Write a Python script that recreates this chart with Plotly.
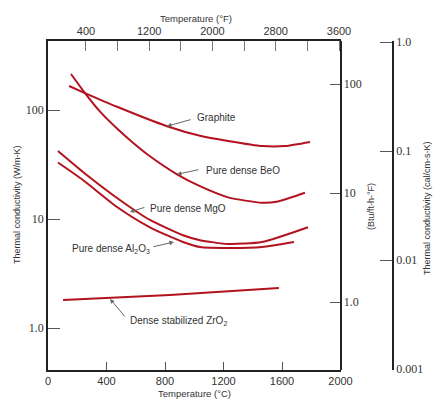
import math
import plotly.graph_objects as go

# ---------------- data ----------------
t_graphite = [144, 253, 472, 814, 1039, 1231, 1463, 1621, 1792]
k_graphite = [166, 143, 107, 71, 58, 52, 46.7, 46.7, 50.9]

t_beo = [157, 253, 356, 472, 581, 697, 882, 1039, 1231, 1463, 1573, 1757]
k_beo = [214, 143, 96.6, 67.6, 50.1, 37.6, 25.7, 20.0, 15.8, 14.1, 14.5, 17.4]

t_mgo = [68, 239, 472, 697, 923, 1039, 1231, 1463, 1778]
k_mgo = [42, 27, 15.6, 9.8, 7.1, 6.4, 5.9, 6.15, 8.4]

t_al2o3 = [68, 239, 472, 697, 923, 1039, 1231, 1463, 1682]
k_al2o3 = [33, 22.8, 12.9, 8.4, 6.15, 5.53, 5.42, 5.53, 6.15]

t_zro2 = [103, 834, 1579]
k_zro2 = [1.81, 2.01, 2.33]

c_ticks = [0, 400, 800, 1200, 1600, 2000]
f_ticks = [400, 800, 1200, 1600, 2000, 2400, 2800, 3200, 3600]
f_labels = ["400", "", "1200", "", "2000", "", "2800", "", "3600"]
w_ticks = [1, 10, 100]
w_labels = ["1.0", "10", "100"]
btu_ticks = [1, 10, 100]
btu_labels = ["1.0", "10", "100"]
cal_ticks = [0.001, 0.01, 0.1, 1]
cal_labels = ["0.001", "0.01", "0.1", "1.0"]

# ---------------- layout helpers ----------------
W, H = 435, 400
def px(x):
    return x / W
def py(y):
    return 1 - y / H

RED = "#b3121f"
AX = "#222222"
TXT = "#333333"
SANS = "Liberation Sans, Arial, sans-serif"
SERIF = "Liberation Serif, Times New Roman, serif"

fig = go.Figure()
series = [(t_graphite, k_graphite), (t_beo, k_beo), (t_mgo, k_mgo),
          (t_al2o3, k_al2o3), (t_zro2, k_zro2)]
for t, k in series:
    fig.add_trace(go.Scatter(x=t, y=k, mode="lines",
                             line=dict(color=RED, width=2, shape="spline", smoothing=0.6),
                             hoverinfo="skip"))
# empty traces so overlay axes exist
fig.add_trace(go.Scatter(x=[None], y=[None], xaxis="x2", yaxis="y2", hoverinfo="skip"))
fig.add_trace(go.Scatter(x=[None], y=[None], xaxis="x", yaxis="y3", hoverinfo="skip"))

xd = [px(48), px(340.5)]
yd = [py(370), py(41)]

fig.update_layout(
    width=W, height=H, margin=dict(l=0, r=0, t=0, b=0, autoexpand=False),
    plot_bgcolor="white", paper_bgcolor="white", showlegend=False,
    xaxis=dict(domain=xd, range=[0, 2000], tickvals=c_ticks, ticks="inside", ticklen=8,
               tickcolor="#555", showline=True, linecolor=AX, linewidth=1.5, showgrid=False,
               zeroline=False, anchor="y", automargin=False,
               tickfont=dict(family=SANS, size=11, color=TXT)),
    xaxis2=dict(overlaying="x", side="top", range=[-80, 3619], tickvals=f_ticks, ticktext=f_labels,
                ticks="inside", ticklen=10, tickcolor="#777", showline=True, linecolor=AX, linewidth=1.5,
                showgrid=False, zeroline=False, anchor="y", automargin=False,
                tickfont=dict(family=SANS, size=11, color=TXT)),
    yaxis=dict(domain=yd, type="log", range=[-0.385, 2.633], tickvals=w_ticks, ticktext=w_labels,
               ticks="inside", ticklen=12, tickcolor="#555", showline=True, linecolor=AX, linewidth=1.5,
               showgrid=False, zeroline=False, anchor="x", automargin=False,
               tickfont=dict(family=SERIF, size=12, color=TXT)),
    yaxis2=dict(overlaying="y", type="log", range=[-0.623, 2.395], side="right", anchor="free",
                position=xd[1], tickvals=btu_ticks, ticktext=btu_labels, ticks="inside", ticklen=10,
                tickcolor="#555", showline=True, linecolor=AX, linewidth=1.5, showgrid=False,
                zeroline=False, automargin=False, tickfont=dict(family=SERIF, size=12, color=TXT)),
    yaxis3=dict(overlaying="y", type="log", range=[-3.007, 0.011], side="right", anchor="free",
                position=px(393), tickvals=cal_ticks, ticktext=cal_labels, ticks="inside", ticklen=12,
                tickcolor="#555", showline=True, linecolor=AX, linewidth=1.5, showgrid=False,
                zeroline=False, automargin=False, tickfont=dict(family=SERIF, size=12, color=TXT)),
)

ann = []
def text(x, y, s, angle=0, xanchor="center", size=9):
    ann.append(dict(x=px(x), y=py(y), xref="paper", yref="paper", text=s, showarrow=False,
                    textangle=angle, xanchor=xanchor, yanchor="middle",
                    font=dict(family=SANS, size=size, color=TXT)))

text(196, 18, "Temperature (°F)", size=9.5)
text(194, 393, "Temperature (°C)", size=9.5)
text(17, 205, "Thermal conductivity (W/m-K)", angle=-90, size=9)
text(371, 207, "(Btu/ft-h-°F)", angle=-90, size=9)
text(427, 208, "Thermal conductivity (cal/cm-s-K)", angle=-90, size=9)

text(195, 118, "Graphite", xanchor="left", size=10)
text(204, 170, "Pure dense BeO", xanchor="left", size=10)
text(148, 208, "Pure dense MgO", xanchor="left", size=10)
text(70, 249, "Pure dense Al<sub>2</sub>O<sub>3</sub>", xanchor="left", size=10)
text(128, 321, "Dense stabilized ZrO<sub>2</sub>", xanchor="left", size=10)

def arrow(xd_, yd_, ax, ay):
    ann.append(dict(x=xd_, y=yd_, xref="x", yref="y", text="", showarrow=True, ax=ax, ay=ay,
                    arrowhead=2, arrowsize=0.9, arrowwidth=1, arrowcolor="#666", standoff=0))

arrow(814, math.log10(71), 25, -7)
arrow(882, math.log10(25.7), 23, -5)
arrow(560, math.log10(11.6), 16, -5)
arrow(861, math.log10(6.15), -22, 5)
arrow(424, math.log10(1.85), 16, 19)

fig.update_layout(annotations=ann)
fig.write_html("out.html", config={"displayModeBar": False},
               post_script="document.body.style.margin='0';document.body.style.overflow='hidden';")
